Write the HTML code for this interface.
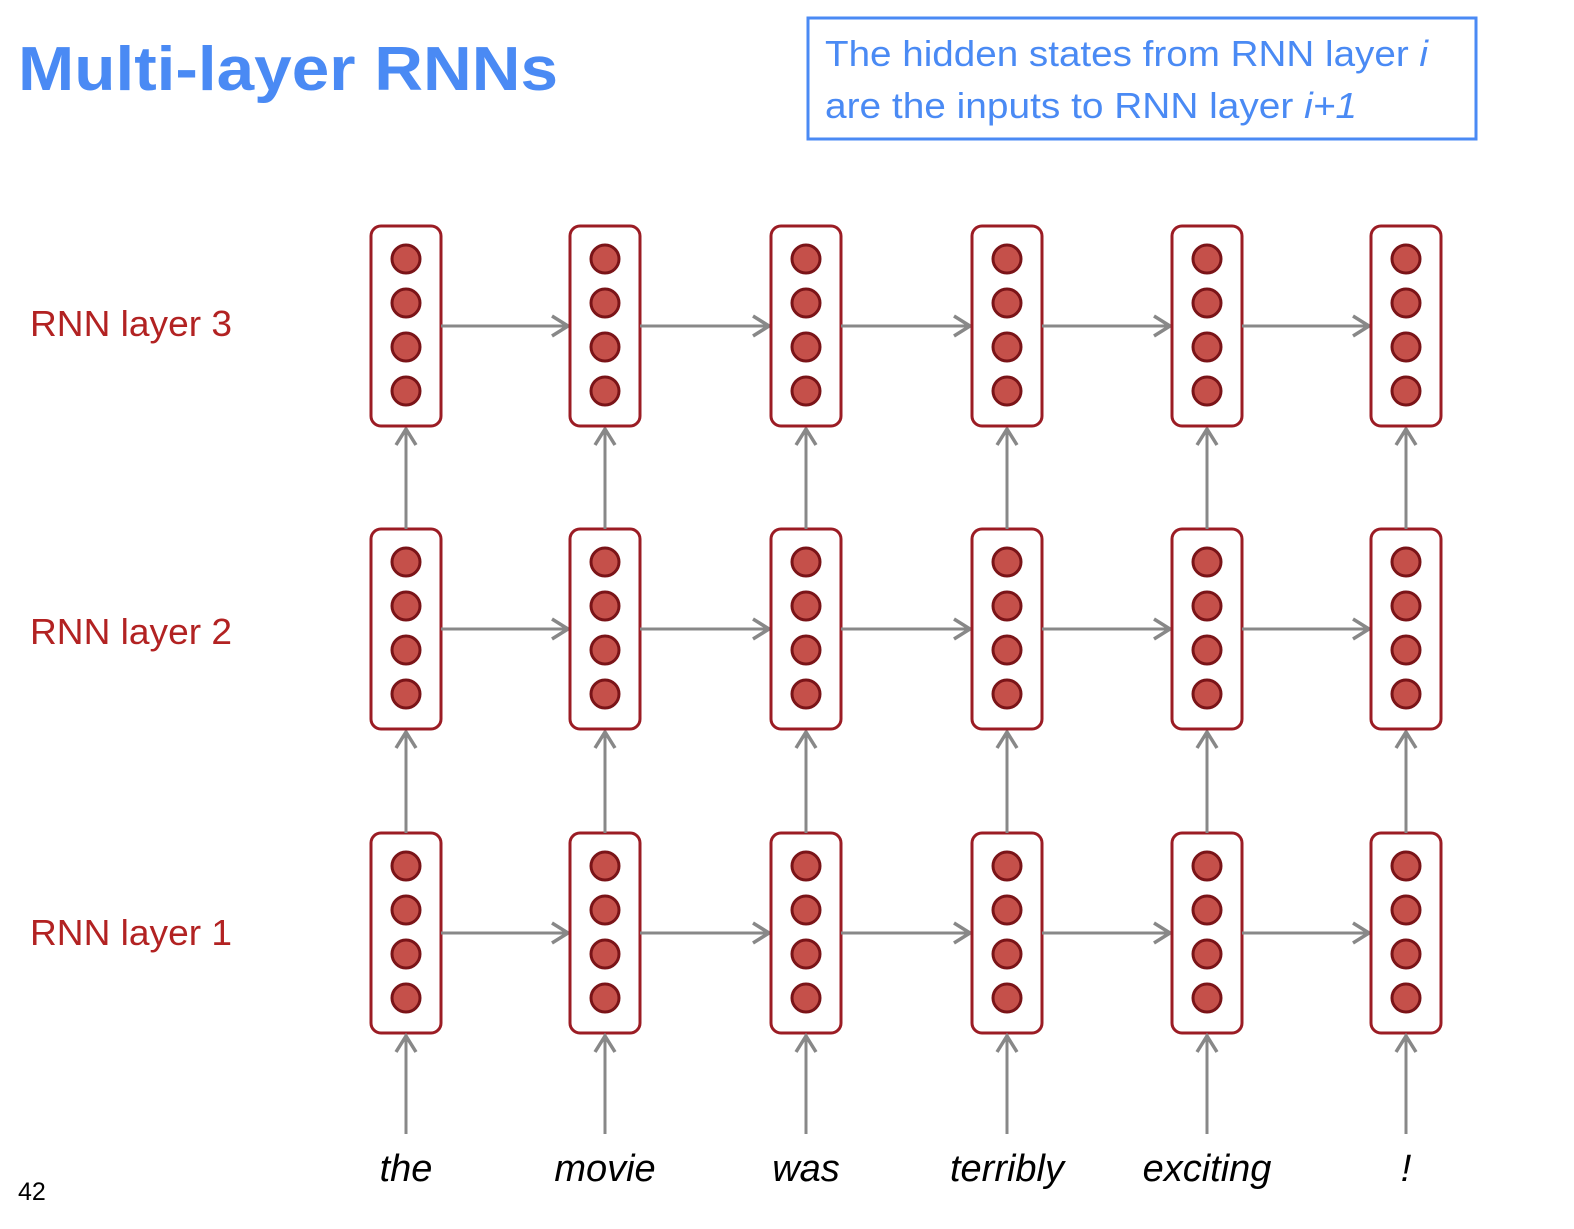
<!DOCTYPE html>
<html><head><meta charset="utf-8"><style>
html,body{margin:0;padding:0;background:#fff;}
body{width:1574px;height:1224px;position:relative;overflow:hidden;font-family:"Liberation Sans",sans-serif;}
</style></head><body>
<svg id="s" width="1574" height="1224" viewBox="0 0 1574 1224" xmlns="http://www.w3.org/2000/svg">
<defs>
<marker id="ah" markerWidth="22" markerHeight="24" refX="18" refY="12" orient="auto" markerUnits="userSpaceOnUse">
<path d="M2,2 L18,12 L2,22" fill="none" stroke="#888" stroke-width="3.5"/>
</marker>
</defs>
<text x="18" y="90" font-family="Liberation Sans, sans-serif" font-weight="bold" font-size="62" fill="#4a8af4" textLength="540" lengthAdjust="spacingAndGlyphs">Multi-layer RNNs</text>
<rect x="808" y="18" width="668" height="121" fill="none" stroke="#4a8af4" stroke-width="3"/>
<text x="825" y="66" font-size="36" fill="#4a8af4" textLength="603" lengthAdjust="spacingAndGlyphs">The hidden states from RNN layer <tspan font-style="italic">i</tspan></text>
<text x="825" y="118" font-size="36" fill="#4a8af4" textLength="532" lengthAdjust="spacingAndGlyphs">are the inputs to RNN layer <tspan font-style="italic">i+1</tspan></text>
<text x="30" y="336" font-size="36" fill="#b22222" textLength="202" lengthAdjust="spacingAndGlyphs">RNN layer 3</text>
<text x="30" y="644" font-size="36" fill="#b22222" textLength="202" lengthAdjust="spacingAndGlyphs">RNN layer 2</text>
<text x="30" y="945" font-size="36" fill="#b22222" textLength="202" lengthAdjust="spacingAndGlyphs">RNN layer 1</text>
<text x="18" y="1200" font-size="25" fill="#000">42</text>
<g id="g"></g>
</svg>
<script>
const words = ["the","movie","was","terribly","exciting","!"];
const colX = [406, 605, 806, 1007, 1207, 1406];
const layerTops = [833, 529, 226]; // layer1, layer2, layer3
const units = [0,1,2,3];
const NS="http://www.w3.org/2000/svg";
const g=document.getElementById('g');
function mk(t,a){const e=document.createElementNS(NS,t);for(const k in a)e.setAttribute(k,a[k]);g.appendChild(e);return e;}
const BW=70,BH=200;
layerTops.forEach((top,li)=>{
  colX.forEach((cx,ci)=>{
    const r=mk('rect',{x:cx-BW/2,y:top,width:BW,height:BH,rx:10,fill:'#fff',stroke:'#9b1c24','stroke-width':3});
    
    
    units.forEach(u=>{
      const c=mk('circle',{cx:cx,cy:top+33+u*44,r:14,fill:'#c5504a',stroke:'#7a1418','stroke-width':3});
      
      
    });
    if(ci<colX.length-1){
      const y=top+BH/2;
      const l=mk('line',{x1:cx+BW/2,y1:y,x2:colX[ci+1]-BW/2-2,y2:y,stroke:'#888','stroke-width':3,'marker-end':'url(#ah)'});
      
      
    }
    if(li<layerTops.length-1){
      const l=mk('line',{x1:cx,y1:top,x2:cx,y2:layerTops[li+1]+BH+3,stroke:'#888','stroke-width':3,'marker-end':'url(#ah)'});
      
      
    }
  });
});
colX.forEach((cx,ci)=>{
  const l=mk('line',{x1:cx,y1:1134,x2:cx,y2:layerTops[0]+BH+3,stroke:'#888','stroke-width':3,'marker-end':'url(#ah)'});
  
  
  const t=mk('text',{x:cx,y:1181,'text-anchor':'middle','font-size':38,'font-style':'italic',fill:'#000'});
  t.textContent=words[ci];
  
  
});
</script>
</body></html>
